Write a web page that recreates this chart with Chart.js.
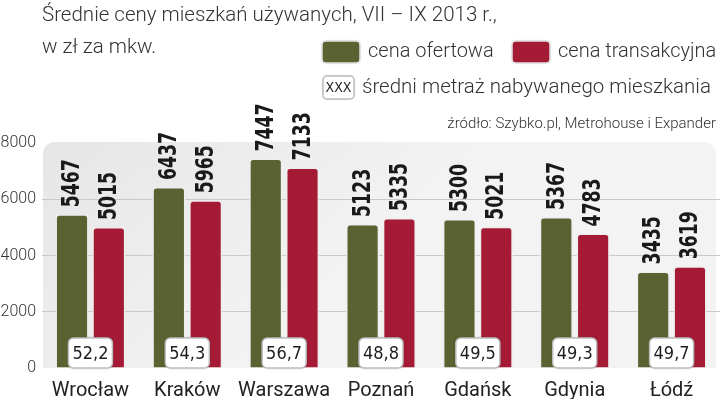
<!DOCTYPE html>
<html>
<head>
<meta charset="utf-8">
<script src="https://cdn.jsdelivr.net/npm/chart.js@4"></script>
<style>
  body { margin: 0; background: #fff; }
  #wrap { width: 720px; height: 399px; position: relative; }
</style>
</head>
<body>
<div id="wrap"><canvas id="bar-chart"></canvas></div>
<script>
const categories = ['Wrocław', 'Kraków', 'Warszawa', 'Poznań', 'Gdańsk', 'Gdynia', 'Łódź'];
const cenaOfertowa = [5467, 6437, 7447, 5123, 5300, 5367, 3435];
const cenaTransakcyjna = [5015, 5965, 7133, 5335, 5021, 4783, 3619];
const metraz = [52.2, 54.3, 56.7, 48.8, 49.5, 49.3, 49.7];
const yTicks = [0, 2000, 4000, 6000, 8000];

const GREEN = '#5a6231';
const RED = '#a51b35';
const TXT = '#333';
const COND = '"DejaVu Sans Condensed", "DejaVu Sans", sans-serif';

function roundRect(ctx, x, y, w, h, r) {
  ctx.beginPath();
  ctx.roundRect(x, y, w, h, r);
}

// panel, title, legend, value labels, metraz boxes
const extras = {
  id: 'extras',
  beforeDraw(chart) {
    const { ctx, chartArea: a } = chart;
    ctx.save();
    const g = ctx.createLinearGradient(a.left, a.top, a.left + 200, a.bottom);
    g.addColorStop(0, '#e6e6e6');
    g.addColorStop(1, '#f3f3f3');
    ctx.fillStyle = g;
    roundRect(ctx, a.left + 1, a.top - 1, a.right - a.left - 5, a.bottom - a.top + 1, [12, 12, 0, 0]);
    ctx.fill();
    ctx.restore();
  },
  afterDatasetsDraw(chart) {
    const { ctx, chartArea: a } = chart;
    ctx.save();
    // value labels above bars
    ctx.font = 'bold 24px ' + COND;
    ctx.fillStyle = '#1a1a1a';
    ctx.textAlign = 'left';
    ctx.textBaseline = 'middle';
    chart.data.datasets.forEach((ds, di) => {
      chart.getDatasetMeta(di).data.forEach((bar, i) => {
        ctx.save();
        ctx.translate(bar.x + 1, bar.y - 7);
        ctx.rotate(-Math.PI / 2);
        ctx.scale(0.8, 1);
        ctx.fillText(String(ds.data[i]), 0, 0);
        ctx.restore();
      });
    });
    // metraz boxes
    const xs = chart.scales.x;
    ctx.font = '18px ' + COND;
    ctx.textAlign = 'center';
    metraz.forEach((m, i) => {
      const cx = xs.getPixelForValue(i);
      const w = 44, h = 30;
      ctx.shadowColor = 'rgba(0,0,0,0.25)';
      ctx.shadowBlur = 3;
      ctx.fillStyle = '#fff';
      roundRect(ctx, cx - w / 2, a.bottom - h, w, h, 5);
      ctx.fill();
      ctx.shadowColor = 'transparent';
      ctx.strokeStyle = '#bdbdbd';
      ctx.lineWidth = 1.5;
      ctx.stroke();
      ctx.fillStyle = '#1e1e1e';
      ctx.fillText(m.toFixed(1).replace('.', ','), cx, a.bottom - h / 2 + 1);
    });
    ctx.restore();
  },
  afterDraw(chart) {
    const { ctx } = chart;
    ctx.save();
    ctx.fillStyle = TXT;
    ctx.textBaseline = 'alphabetic';
    ctx.textAlign = 'left';
    ctx.font = '300 20.5px Roboto';
    ctx.fillText('Średnie ceny mieszkań używanych, VII – IX 2013 r.,', 42, 21);
    ctx.fillText('w zł za mkw.', 42, 53);

    // legend row 1
    const sw = (x, y, c) => {
      ctx.fillStyle = c;
      ctx.shadowColor = 'rgba(0,0,0,0.3)';
      ctx.shadowBlur = 2;
      roundRect(ctx, x, y, 38, 22, 4);
      ctx.fill();
      ctx.shadowColor = 'transparent';
      ctx.strokeStyle = '#e0e0e0';
      ctx.lineWidth = 1.5;
      ctx.stroke();
    };
    sw(322, 41, GREEN);
    sw(512, 41, RED);
    ctx.fillStyle = TXT;
    ctx.textBaseline = 'middle';
    ctx.font = '300 20px Roboto';
    ctx.fillText('cena ofertowa', 368, 52);
    ctx.fillText('cena transakcyjna', 558, 52);

    // legend row 2
    ctx.fillStyle = '#fff';
    ctx.shadowColor = 'rgba(0,0,0,0.3)';
    ctx.shadowBlur = 2;
    roundRect(ctx, 323, 76, 31, 23, 4);
    ctx.fill();
    ctx.shadowColor = 'transparent';
    ctx.strokeStyle = '#bdbdbd';
    ctx.lineWidth = 1.5;
    ctx.stroke();
    ctx.fillStyle = '#1e1e1e';
    ctx.font = '14px ' + COND;
    ctx.textAlign = 'center';
    ctx.fillText('XXX', 338.5, 88);
    ctx.textAlign = 'left';
    ctx.fillStyle = TXT;
    ctx.font = '300 20.5px Roboto';
    ctx.fillText('średni metraż nabywanego mieszkania', 362, 88);

    ctx.font = '300 15px Roboto';
    ctx.textAlign = 'right';
    ctx.fillText('źródło: Szybko.pl, Metrohouse i Expander', 716, 124);
    ctx.restore();
  }
};

new Chart(document.getElementById('bar-chart'), {
  type: 'bar',
  data: {
    labels: categories,
    datasets: [{
      label: 'cena ofertowa',
      data: cenaOfertowa,
      backgroundColor: GREEN,
      borderColor: '#eeeeee',
      borderWidth: 1.5,
      borderRadius: { topLeft: 4, topRight: 4 },
      borderSkipped: 'bottom'
    },
    {
      label: 'cena transakcyjna',
      data: cenaTransakcyjna,
      backgroundColor: RED,
      borderColor: '#eeeeee',
      borderWidth: 1.5,
      borderRadius: { topLeft: 4, topRight: 4 },
      borderSkipped: 'bottom'
    }]
  },
  options: {
    responsive: true,
    maintainAspectRatio: false,
    animation: false,
    layout: { padding: { top: 143, right: 0, left: 0, bottom: 0 } },
    datasets: { bar: { categoryPercentage: 0.76, barPercentage: 0.9 } },
    plugins: { legend: { display: false }, tooltip: { enabled: false } },
    scales: {
      x: {
        grid: { display: false },
        border: { display: false },
        ticks: {
          color: '#222',
          font: { family: 'Roboto', size: 20 },
          padding: 3,
          maxRotation: 0,
          minRotation: 0,
          autoSkip: false
        },
        afterFit(s) { s.height = 31; }
      },
      y: {
        min: 0,
        max: 8000,
        afterBuildTicks(s) { s.ticks = yTicks.map(v => ({ value: v })); },
        grid: {
          color: c => (c.tick.value === 0 || c.tick.value === 8000) ? 'transparent' : '#c9c9c9',
          lineWidth: 1,
          drawTicks: false
        },
        border: { display: false },
        ticks: {
          color: '#333',
          font: { family: 'Roboto', size: 16, weight: '300' },
          padding: 6,
          callback: v => String(v)
        },
        afterFit(s) { s.width = 42; }
      }
    }
  },
  plugins: [extras]
});
</script>
</body>
</html>
